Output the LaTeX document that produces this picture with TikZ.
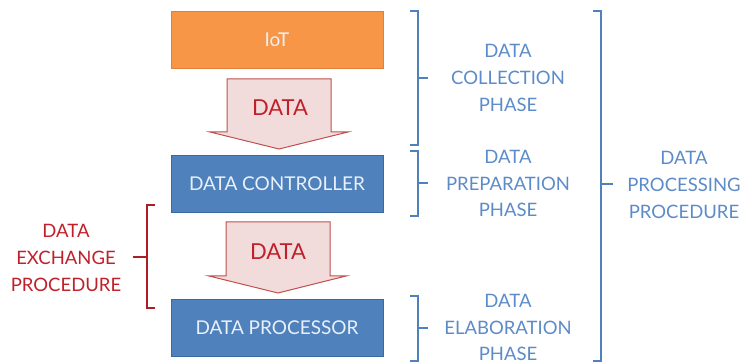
\documentclass[tikz,border=0pt]{standalone}
\usepackage{fontspec}
\setmainfont{Lato}
\definecolor{iotor}{HTML}{F79646}
\definecolor{iotbd}{HTML}{E0803A}
\definecolor{boxbl}{HTML}{4F81BD}
\definecolor{boxbd}{HTML}{3A6A9E}
\definecolor{arrfill}{HTML}{F2DCDB}
\definecolor{arrbd}{HTML}{C0504D}
\definecolor{redtx}{HTML}{C0202A}
\definecolor{bluetx}{HTML}{5B8BC8}
\definecolor{boxtx}{HTML}{EAF0F8}
\begin{document}
\begin{tikzpicture}[x=1pt,y=-1pt,
  blk/.style={draw=boxbd,line width=0.8pt,fill=boxbl,minimum width=212pt,minimum height=57pt,inner sep=0pt,text=boxtx,font=\fontsize{19}{19}\selectfont},
  lbl/.style={align=center,font=\fontsize{18.5}{26.7}\selectfont,inner sep=0pt},
  brk/.style={line width=2.2pt,draw=boxbl},
  rbrk/.style={line width=2.2pt,draw=redtx!90!black},
  dtxt/.style={text=redtx,font=\fontsize{22}{22}\selectfont},
  dataarr/.style={draw=arrbd,line width=1pt,fill=arrfill,line join=miter}]
\useasboundingbox (0,0) rectangle (744,363);
% boxes
\node[blk,fill=iotor,draw=iotbd] (iot) at (277,40) {IoT};
\node[blk] (ctrl) at (277,183.5) {DATA CONTROLLER};
\node[blk] (proc) at (277,328) {DATA PROCESSOR};
% arrows
\draw[dataarr] (227,79) -- (331,79) -- (331,132) -- (348,132) -- (279,149) -- (210,132) -- (227,132) -- cycle;
\node[dtxt] (d1) at (280,108) {DATA};
\draw[dataarr] (226,222) -- (330,222) -- (330,276) -- (346,276) -- (278,293) -- (209,276) -- (226,276) -- cycle;
\node[dtxt] (d2) at (278,252) {DATA};
% red bracket
\draw[rbrk] (155,205) -- (147,205) -- (147,308) -- (155,308);
\coordinate (rb) at (147,257);
\coordinate (rbt) at (133,257);
\draw[rbrk] (rb) -- (rbt);
\node[lbl,text=redtx] (exch) at (66,258) {DATA\\EXCHANGE\\PROCEDURE};
% blue phase brackets
\draw[brk] (410,11) -- (418,11) -- (418,145) -- (410,145);
\coordinate (b1) at (418,78); \coordinate (b1t) at (428,78);
\draw[brk] (b1) -- (b1t);
\node[lbl,text=bluetx] (coll) at (508,78) {DATA\\COLLECTION\\PHASE};
\draw[brk] (410,151) -- (418,151) -- (418,216) -- (410,216);
\coordinate (b2) at (418,183); \coordinate (b2t) at (428,183);
\draw[brk] (b2) -- (b2t);
\node[lbl,text=bluetx] (prep) at (508,183.5) {DATA\\PREPARATION\\PHASE};
\draw[brk] (410,296) -- (418,296) -- (418,361) -- (410,361);
\coordinate (b3) at (418,328); \coordinate (b3t) at (428,328);
\draw[brk] (b3) -- (b3t);
\node[lbl,text=bluetx] (elab) at (508,327.5) {DATA\\ELABORATION\\PHASE};
% big bracket
\draw[brk] (593,11) -- (601,11) -- (601,361) -- (593,361);
\coordinate (b4) at (601,184); \coordinate (b4t) at (613,184);
\draw[brk] (b4) -- (b4t);
\node[lbl,text=bluetx] (dpp) at (684,185) {DATA\\PROCESSING\\PROCEDURE};
\end{tikzpicture}
\end{document}
